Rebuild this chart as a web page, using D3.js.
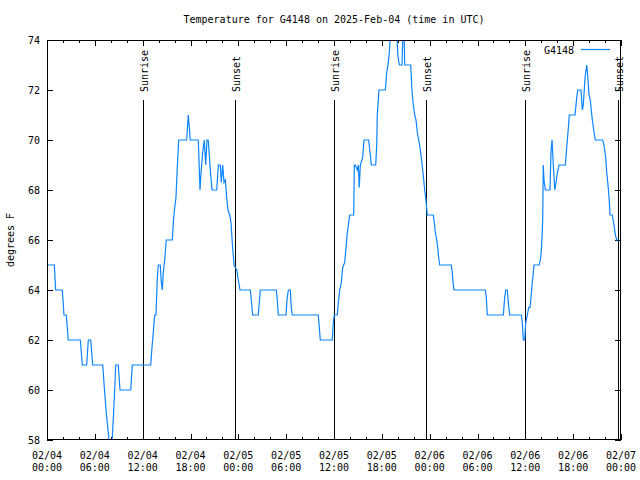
<!DOCTYPE html>
<html>
<head>
<meta charset="utf-8">
<script src="https://cdn.jsdelivr.net/npm/d3@7"></script>
<style>
  html, body { margin: 0; padding: 0; background: #fff; }
  svg { display: block; }
  text { font-family: "DejaVu Sans Mono", "Liberation Mono", monospace; font-size: 10px; fill: #000; }
</style>
</head>
<body>
<svg id="chart" width="640" height="480"></svg>
<script>
// ---- data (hours since 2025-02-04 00:00 UTC, temperature in degrees F) ----
const title = "Temperature for G4148 on 2025-Feb-04 (time in UTC)";
const seriesName = "G4148";
const yLabel = "degrees F";
const hours = [
  0, 0.92, 1.09, 1.92, 2.13, 2.42, 2.67, 4.18, 4.43, 4.98, 5.18, 5.48, 5.73, 6.99, 7.21, 7.46, 7.78, 7.97, 8.09, 8.34,
  8.49, 8.62, 8.94, 9.16, 10.50, 10.70, 13.01, 13.17, 13.33, 13.51, 13.67, 13.84, 13.96, 14.21, 14.34, 14.46, 14.59, 14.76, 14.96, 15.72,
  15.84, 16.02, 16.18, 16.34, 16.52, 17.52, 17.72, 17.90, 17.97, 18.98, 19.19, 19.32, 19.53, 19.73, 19.91, 20.07, 20.23, 20.48, 20.70, 21.29,
  21.49, 21.74, 21.86, 22.04, 22.20, 22.37, 22.54, 22.70, 22.92, 23.08, 23.24, 23.46, 23.80, 24.00, 24.21, 25.50, 25.63, 25.80, 26.50, 26.63,
  26.76, 28.76, 28.89, 29.01, 29.98, 30.10, 30.27, 30.52, 30.64, 30.77, 34.03, 34.16, 34.28, 35.79, 35.91, 36.04, 36.41, 36.54, 36.72, 36.92,
  37.09, 37.34, 37.51, 37.67, 37.84, 37.97, 38.47, 38.55, 38.67, 38.92, 39.05, 39.17, 39.30, 39.60, 39.76, 40.35, 40.68, 41.23, 41.36, 41.43,
  41.64, 42.44, 42.61, 42.77, 42.94, 43.12, 43.84, 44.03, 44.20, 44.53, 44.66, 44.78, 44.87, 45.62, 45.78, 45.95, 46.12, 46.29, 46.45, 46.63,
  46.79, 46.95, 47.16, 47.38, 47.50, 47.70, 48.46, 48.58, 48.71, 48.88, 49.01, 49.13, 49.26, 50.71, 50.84, 50.93, 51.05, 54.98, 55.10, 55.23,
  57.24, 57.41, 57.54, 57.74, 57.86, 58.04, 59.50, 59.62, 59.75, 59.92, 60.05, 60.25, 60.42, 60.59, 60.71, 60.84, 61.00, 61.09, 61.75, 61.93,
  62.05, 62.18, 62.25, 62.34, 62.51, 63.09, 63.22, 63.35, 63.51, 63.69, 63.85, 64.02, 64.23, 65.02, 65.19, 65.35, 65.52, 66.23, 66.45, 66.57,
  66.98, 67.15, 67.27, 67.49, 67.70, 67.82, 67.99, 68.15, 68.33, 68.45, 68.62, 68.78, 69.70, 69.87, 70.08, 70.21, 70.37, 70.50, 70.62, 70.91,
  71.12, 71.29, 71.46, 71.75
];
const temps = [
  65, 65, 64, 64, 63, 63, 62, 62, 61, 61, 62, 62, 61, 61, 60, 59, 58, 57.5, 57.5, 59,
  60, 61, 61, 60, 60, 61, 61, 61.7, 62.3, 63, 63, 64.5, 65, 65, 64.3, 64, 64.7, 65.2, 66, 66,
  66.7, 67.3, 67.7, 68.9, 70, 70, 71, 70.3, 70, 70, 68, 68.7, 69.5, 70, 69, 70, 70, 68.8, 68, 68,
  69, 69, 68.3, 69, 68.3, 68.4, 67.7, 67.2, 67, 66.7, 65.9, 65, 64.8, 64.4, 64, 64, 63.6, 63, 63, 63.5,
  64, 64, 63.6, 63, 63, 63.6, 64, 64, 63.3, 63, 63, 62.5, 62, 62, 62.7, 63, 63, 63.5, 64, 64.3,
  64.9, 65.1, 65.7, 66.3, 66.7, 67, 67, 69, 69, 68.8, 69, 68.1, 69, 69.3, 70, 70, 69, 69, 69.8, 71,
  72, 72, 72.7, 73, 73.5, 74.5, 74.5, 73.3, 73, 73, 74.5, 74.5, 73, 73, 72, 71.4, 71, 70.8, 70.3, 70,
  69.7, 69.3, 68.7, 68, 67.7, 67, 67, 66.7, 66.3, 66, 65.7, 65.3, 65, 65, 64.7, 64.3, 64, 64, 63.7, 63,
  63, 63.7, 64, 64, 63.5, 63, 63, 62.7, 62, 62, 62.7, 63, 63.3, 63.3, 63.7, 64.2, 64.7, 65, 65, 65.3,
  65.8, 66.8, 69, 68.4, 68, 68, 69.5, 70, 69, 68, 68.3, 68.7, 69, 69, 69.7, 70.3, 71, 71, 71.7, 72,
  72, 71.2, 71.4, 72.5, 73, 72.6, 71.8, 71.6, 71, 70.7, 70.3, 70, 70, 69.8, 69.3, 68.7, 68.2, 67.7, 67, 67,
  66.6, 66.2, 66, 66
];
const sunEvents = [
  { label: "Sunrise", hour: 12.0 },
  { label: "Sunset",  hour: 23.6 },
  { label: "Sunrise", hour: 36.02 },
  { label: "Sunset",  hour: 47.6 },
  { label: "Sunrise", hour: 60.0 },
  { label: "Sunset",  hour: 71.65 }
];
const xTickHours = [0, 6, 12, 18, 24, 30, 36, 42, 48, 54, 60, 66, 72];
const yTickValues = [58, 60, 62, 64, 66, 68, 70, 72, 74];

// ---- layout ----
const margin = { left: 47, right: 19, top: 40, bottom: 40 };
const W = 640, H = 480;
const pw = W - margin.left - margin.right;
const ph = H - margin.top - margin.bottom;
const base = Date.UTC(2025, 1, 4, 0, 0, 0);
const toDate = h => new Date(base + h * 3600000);

const svg = d3.select("#chart");
const x = d3.scaleUtc().domain([toDate(0), toDate(72)]).range([margin.left, margin.left + pw]);
const y = d3.scaleLinear().domain([58, 74]).range([margin.top + ph, margin.top]);

svg.append("defs").append("clipPath").attr("id", "plotclip")
  .append("rect").attr("x", margin.left).attr("y", margin.top).attr("width", pw).attr("height", ph);

// title
svg.append("text").attr("x", margin.left + pw / 2).attr("y", 23)
  .attr("text-anchor", "middle").text(title);

// y label
svg.append("text").attr("transform", `translate(14,${margin.top + ph / 2}) rotate(-90)`)
  .attr("text-anchor", "middle").text(yLabel);

// axes
const fmtDay = d3.utcFormat("%m/%d");
const fmtTime = d3.utcFormat("%H:%M");
svg.append("g").attr("transform", `translate(0,${margin.top + ph})`)
  .call(d3.axisBottom(x).tickValues(xTickHours.map(toDate)).tickSize(-6).tickFormat(""));
svg.append("g").attr("transform", `translate(0,${margin.top})`)
  .call(d3.axisTop(x).tickValues(xTickHours.map(toDate)).tickSize(-6).tickFormat(""));
const minorHours = d3.range(0, 73, 2).filter(h => h % 6 !== 0);
svg.append("g").attr("transform", `translate(0,${margin.top + ph})`)
  .call(d3.axisBottom(x).tickValues(minorHours.map(toDate)).tickSize(-3).tickFormat(""));
svg.append("g").attr("transform", `translate(0,${margin.top})`)
  .call(d3.axisTop(x).tickValues(minorHours.map(toDate)).tickSize(-3).tickFormat(""));
svg.append("g").attr("transform", `translate(${margin.left},0)`)
  .call(d3.axisLeft(y).tickValues(yTickValues).tickSize(-6).tickFormat(""));
svg.append("g").attr("transform", `translate(${margin.left + pw},0)`)
  .call(d3.axisRight(y).tickValues(yTickValues).tickSize(-6).tickFormat(""));
svg.selectAll(".domain").remove();
svg.selectAll(".tick line").attr("stroke", "#000").attr("shape-rendering", "crispEdges");

// x tick labels (two lines)
const xl = svg.append("g");
xTickHours.forEach(h => {
  const t = xl.append("text").attr("x", x(toDate(h))).attr("text-anchor", "middle");
  t.append("tspan").attr("x", x(toDate(h))).attr("y", 459).text(fmtDay(toDate(h)));
  t.append("tspan").attr("x", x(toDate(h))).attr("y", 471).text(fmtTime(toDate(h)));
});
// y tick labels
yTickValues.forEach(v => {
  svg.append("text").attr("x", 40).attr("y", y(v) + 4)
    .attr("text-anchor", "end").text(v);
});

// sunrise / sunset markers
sunEvents.forEach(e => {
  const sx = Math.round(x(toDate(e.hour))) + 0.5;
  svg.append("line").attr("x1", sx).attr("x2", sx).attr("y1", 100).attr("y2", margin.top + ph)
    .attr("stroke", "#000").attr("stroke-width", 1).attr("shape-rendering", "crispEdges");
  svg.append("text").attr("transform", `translate(${sx + 4},92) rotate(-90)`)
    .attr("text-anchor", "start").text(e.label);
});

// data line
const pts = hours.map((h, i) => [toDate(h), temps[i]]);
svg.append("path").datum(pts)
  .attr("clip-path", "url(#plotclip)")
  .attr("fill", "none").attr("stroke", "#0a84ff").attr("stroke-width", 1.2)
  .attr("d", d3.line().x(d => x(d[0])).y(d => y(d[1])));

// border
svg.append("rect").attr("x", margin.left + 0.5).attr("y", margin.top + 0.5)
  .attr("width", pw - 1).attr("height", ph - 1)
  .attr("fill", "none").attr("stroke", "#000").attr("stroke-width", 1);

// legend
svg.append("text").attr("x", 574).attr("y", 54).attr("text-anchor", "end").text(seriesName);
svg.append("line").attr("x1", 581).attr("x2", 610).attr("y1", 49.5).attr("y2", 49.5)
  .attr("stroke", "#0a84ff").attr("stroke-width", 1.2);
</script>
</body>
</html>
